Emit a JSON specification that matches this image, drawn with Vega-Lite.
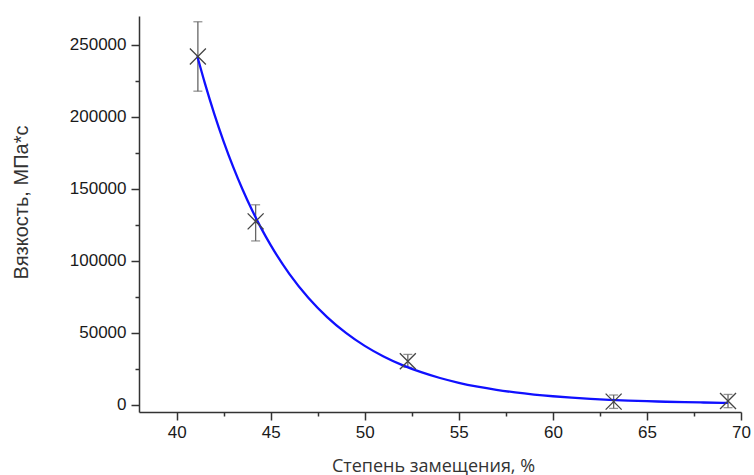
{
  "$schema": "https://vega.github.io/schema/vega-lite/v6.json",
  "autosize": "none",
  "width": 602,
  "height": 396,
  "padding": {"left": 139, "top": 16, "right": 13, "bottom": 63},
  "background": "white",
  "config": {"view": {"stroke": null}},
  "datasets": {
    "pts": [
      {"x": 41.13, "y": 241900, "lo": 217800, "hi": 266000},
      {"x": 44.2, "y": 127400, "lo": 113800, "hi": 138900},
      {"x": 52.29, "y": 30300, "lo": 26000, "hi": 35000},
      {"x": 63.23, "y": 2200, "lo": -2500, "hi": 6800},
      {"x": 69.31, "y": 2600, "lo": -2000, "hi": 7200}
    ],
    "fit": [
      {"x": 41.1, "y": 242000}, {"x": 41.5, "y": 223360}, {"x": 42, "y": 202080},
      {"x": 42.5, "y": 182810}, {"x": 43, "y": 165400}, {"x": 43.5, "y": 149650},
      {"x": 44, "y": 135400}, {"x": 44.5, "y": 122530}, {"x": 45, "y": 110870},
      {"x": 46, "y": 90780}, {"x": 47, "y": 74350}, {"x": 48, "y": 60920},
      {"x": 49, "y": 49940}, {"x": 50, "y": 40930}, {"x": 51, "y": 33580},
      {"x": 52, "y": 27570}, {"x": 53, "y": 22650}, {"x": 54, "y": 18610},
      {"x": 55, "y": 15300}, {"x": 56, "y": 12620}, {"x": 57, "y": 10410},
      {"x": 58, "y": 8610}, {"x": 59, "y": 7130}, {"x": 60, "y": 5930},
      {"x": 61, "y": 4940}, {"x": 62, "y": 4130}, {"x": 63, "y": 3470},
      {"x": 64, "y": 2930}, {"x": 65, "y": 2490}, {"x": 66, "y": 2130},
      {"x": 67, "y": 1830}, {"x": 68, "y": 1590}, {"x": 69, "y": 1390},
      {"x": 69.3, "y": 1340}
    ]
  },
  "encoding": {
    "x": {
      "field": "x", "type": "quantitative",
      "scale": {"domain": [38, 70], "nice": false, "zero": false},
      "axis": {
        "title": "Степень замещения, %",
        "titleFont": "Open Sans", "titleFontSize": 18, "titleFontWeight": "normal", "titleColor": "#333",
        "titleX": 294, "titleY": 54, "titleAlign": "center", "titleBaseline": "middle",
        "values": [40, 42.5, 45, 47.5, 50, 52.5, 55, 57.5, 60, 62.5, 65, 67.5, 70],
        "labelExpr": "datum.value % 5 === 0 ? datum.label : ''",
        "labelFont": "Liberation Sans", "labelFontSize": 17, "labelColor": "#1a1a1a",
        "labelPadding": 4, "labelFlush": false, "labelOverlap": false,
        "tickSize": {"condition": {"test": "datum.value % 5 === 0", "value": 8}, "value": 4},
        "tickColor": "#333", "tickWidth": 1.5,
        "domainColor": "#333", "domainWidth": 1.5, "grid": false
      }
    },
    "y": {
      "type": "quantitative",
      "scale": {"domain": [-5000, 270000], "nice": false, "zero": false},
      "axis": {
        "title": "Вязкость, МПа*с",
        "titleFont": "Liberation Sans", "titleFontSize": 20, "titleFontWeight": "normal", "titleColor": "#333",
        "titleX": -118, "titleY": 186, "titleAlign": "center", "titleBaseline": "middle", "titleAngle": -90,
        "values": [0, 25000, 50000, 75000, 100000, 125000, 150000, 175000, 200000, 225000, 250000],
        "labelExpr": "datum.value % 50000 === 0 ? datum.value : ''",
        "labelFont": "Liberation Sans", "labelFontSize": 17, "labelColor": "#1a1a1a",
        "labelPadding": 5, "labelOverlap": false,
        "tickSize": {"condition": {"test": "datum.value % 50000 === 0", "value": 8}, "value": 4},
        "tickColor": "#333", "tickWidth": 1.5,
        "domainColor": "#333", "domainWidth": 1.5, "grid": false
      }
    }
  },
  "layer": [
    {
      "data": {"name": "pts"},
      "mark": {"type": "rule", "color": "#666", "strokeWidth": 1.3},
      "encoding": {"y": {"field": "lo", "type": "quantitative"}, "y2": {"field": "hi"}}
    },
    {
      "data": {"name": "pts"},
      "mark": {"type": "tick", "orient": "horizontal", "size": 9, "thickness": 1.3, "color": "#666"},
      "encoding": {"y": {"field": "lo", "type": "quantitative"}}
    },
    {
      "data": {"name": "pts"},
      "mark": {"type": "tick", "orient": "horizontal", "size": 9, "thickness": 1.3, "color": "#666"},
      "encoding": {"y": {"field": "hi", "type": "quantitative"}}
    },
    {
      "data": {"name": "fit"},
      "mark": {"type": "line", "color": "#1010ff", "strokeWidth": 2.3, "interpolate": "monotone"},
      "encoding": {"y": {"field": "y", "type": "quantitative"}}
    },
    {
      "data": {"name": "pts"},
      "mark": {"type": "point", "shape": "M-1,-1L1,1M-1,1L1,-1", "filled": false, "size": 256, "stroke": "#444", "strokeWidth": 1.3, "opacity": 1},
      "encoding": {"y": {"field": "y", "type": "quantitative"}}
    }
  ]
}
